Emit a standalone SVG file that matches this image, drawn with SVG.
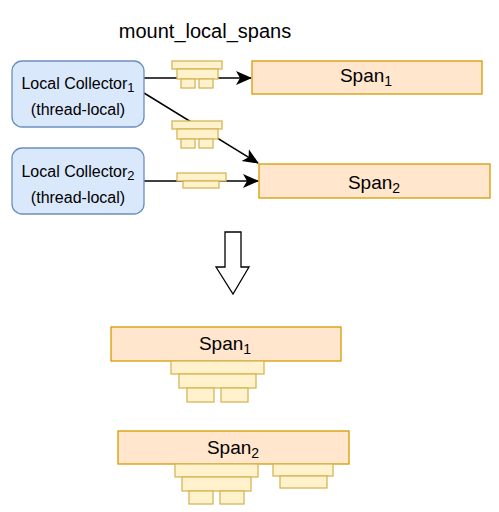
<svg xmlns="http://www.w3.org/2000/svg" width="499" height="512" viewBox="0 0 499 512">
<defs>
<style>
.col{fill:#dae8fc;stroke:#6c8ebf;stroke-width:1.3}
.span{fill:#ffe6cc;stroke:#d79b00;stroke-width:1.3}
.st{fill:#fff2cc;stroke:#d6b656;stroke-width:1.3}
.t{font-family:"Liberation Sans",Arial,sans-serif;fill:#000;text-anchor:middle}
.conn{stroke:#000;stroke-width:1.5;fill:none}
</style>
<marker id="arr" markerUnits="userSpaceOnUse" markerWidth="16" markerHeight="16" viewBox="0 0 16 14" refX="15" refY="7" orient="auto">
<path d="M0,0 L16,7 L0,14 L4,7 Z" fill="#000"/>
</marker>
</defs>
<rect width="499" height="512" fill="#fff"/>
<text class="t" x="205" y="38" font-size="20">mount_local_spans</text>

<g id="connectors">
<line class="conn" x1="144" y1="78" x2="251" y2="78" marker-end="url(#arr)"/>
<line class="conn" x1="144" y1="93" x2="258" y2="163" marker-end="url(#arr)"/>
<line class="conn" x1="144" y1="181" x2="258" y2="181" marker-end="url(#arr)"/>
</g>

<g id="collector1">
<rect class="col" x="12" y="61" width="132" height="66" rx="10"/>
<text class="t" x="78" y="89" font-size="16">Local Collector<tspan font-size="13" dy="3">1</tspan></text>
<text class="t" x="78" y="115" font-size="16">(thread-local)</text>
</g>
<g id="collector2">
<rect class="col" x="12" y="148" width="132" height="66" rx="10"/>
<text class="t" x="78" y="177" font-size="16">Local Collector<tspan font-size="13" dy="3">2</tspan></text>
<text class="t" x="78" y="203" font-size="16">(thread-local)</text>
</g>

<g id="span1">
<rect class="span" x="252" y="61" width="230" height="33"/>
<text class="t" x="366" y="82" font-size="19">Span<tspan font-size="14" dy="4">1</tspan></text>
</g>
<g id="span2">
<rect class="span" x="259" y="164" width="231" height="34"/>
<text class="t" x="374" y="189" font-size="19">Span<tspan font-size="14" dy="4">2</tspan></text>
</g>

<g id="stack-a">
<rect class="st" x="172" y="61" width="50" height="8"/>
<rect class="st" x="177" y="69" width="41" height="10"/>
<rect class="st" x="181" y="79" width="14" height="9"/>
<rect class="st" x="199" y="79" width="14" height="9"/>
</g>
<g id="stack-b">
<rect class="st" x="172" y="121" width="50" height="8"/>
<rect class="st" x="177" y="129" width="41" height="10"/>
<rect class="st" x="181" y="139" width="14" height="9"/>
<rect class="st" x="199" y="139" width="14" height="9"/>
</g>
<g id="stack-c">
<rect class="st" x="177" y="173" width="49" height="8"/>
<rect class="st" x="183" y="181" width="36" height="7"/>
</g>

<g id="down-arrow">
<polygon points="225,232 241,232 241,267 249,267 233,294 216,267 225,267" fill="#fff" stroke="#000" stroke-width="1.3"/>
</g>

<g id="span1-merged">
<rect class="span" x="111" y="327" width="230" height="34"/>
<text class="t" x="225" y="350" font-size="19">Span<tspan font-size="14" dy="4">1</tspan></text>
<rect class="st" x="171" y="361" width="93" height="13"/>
<rect class="st" x="179" y="374" width="77" height="14"/>
<rect class="st" x="187" y="388" width="27" height="14"/>
<rect class="st" x="221" y="388" width="27" height="14"/>
</g>

<g id="span2-merged">
<rect class="span" x="118" y="431" width="231" height="33"/>
<text class="t" x="233" y="454" font-size="19">Span<tspan font-size="14" dy="4">2</tspan></text>
<rect class="st" x="175" y="464" width="83" height="13"/>
<rect class="st" x="182" y="477" width="69" height="14"/>
<rect class="st" x="189" y="491" width="24" height="13"/>
<rect class="st" x="220" y="491" width="24" height="13"/>
<rect class="st" x="273" y="464" width="60" height="12"/>
<rect class="st" x="280" y="476" width="47" height="12"/>
</g>
</svg>
